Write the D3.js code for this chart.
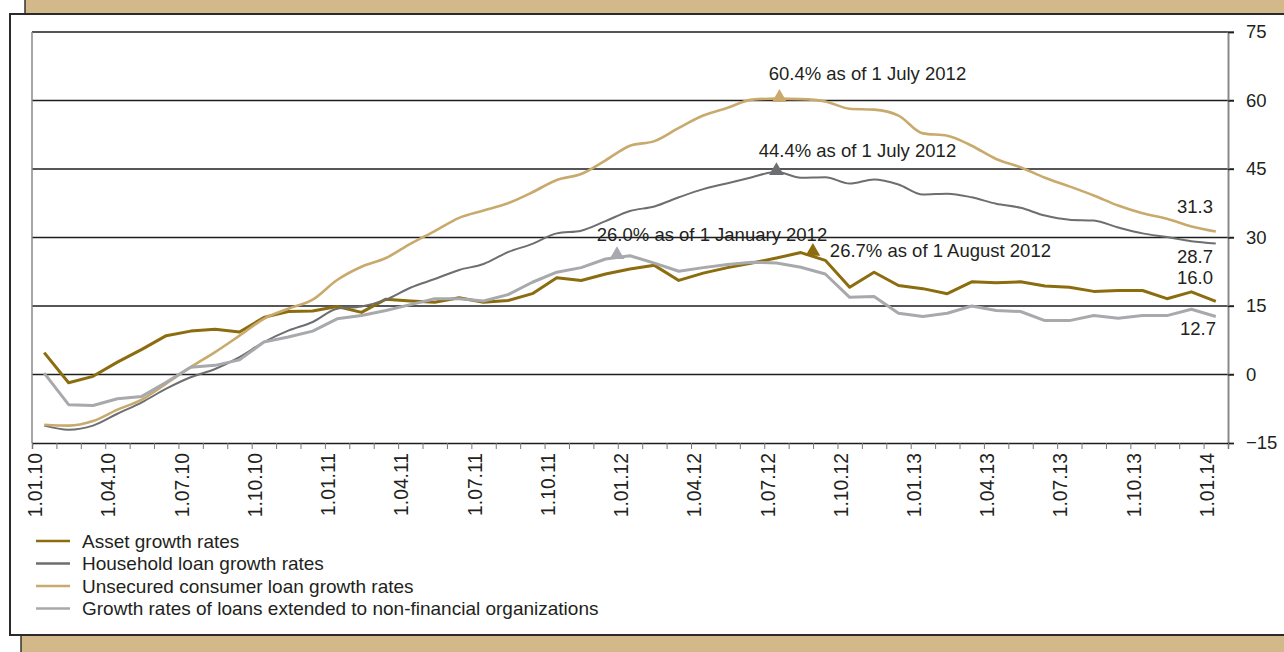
<!doctype html>
<html>
<head>
<meta charset="utf-8"/>
<style>
  html, body { margin: 0; padding: 0; background: #fff; }
  svg { display: block; font-family: "Liberation Sans", Arial, sans-serif; }
  .axis text { font-size: 18.5px; fill: #231f20; }
</style>
<script src="https://d3js.org/d3.v7.min.js"></script>
</head>
<body>
<svg id="chart" width="1284" height="652"></svg>
<script>
// monthly points, 1.01.10 .. 1.01.14
var assetGrowth = [4.8, -1.8, -0.4, 2.7, 5.5, 8.5, 9.5, 9.9, 9.3, 12.5,
  13.8, 13.9, 14.9, 13.6, 16.5, 16.1, 15.8, 16.8, 15.8, 16.2,
  17.7, 21.2, 20.6, 22.0, 23.1, 23.9, 20.6, 22.2, 23.4, 24.4,
  25.5, 26.7, 25.0, 19.1, 22.4, 19.5, 18.8, 17.7, 20.3, 20.1,
  20.3, 19.4, 19.1, 18.2, 18.4, 18.4, 16.6, 18.1, 16.0];
var householdLoans = [-11.2, -12.1, -11.2, -8.6, -6.1, -3.1, -0.6, 1.2, 3.8, 7.1,
  9.6, 11.5, 14.4, 14.9, 16.4, 19.0, 20.9, 22.9, 24.2, 26.8,
  28.6, 30.9, 31.5, 33.6, 35.8, 36.8, 38.8, 40.6, 41.9, 43.2,
  44.4, 43.1, 43.2, 41.8, 42.7, 41.6, 39.4, 39.6, 38.8, 37.4,
  36.5, 34.8, 33.9, 33.7, 32.2, 30.9, 30.1, 29.2, 28.7];
var unsecuredLoans = [-11.0, -11.2, -10.2, -7.7, -5.5, -2.0, 1.6, 4.9, 8.5, 12.2,
  14.4, 16.4, 20.7, 23.6, 25.5, 28.6, 31.4, 34.3, 35.9, 37.5,
  39.9, 42.6, 43.9, 46.9, 50.1, 51.1, 54.0, 56.7, 58.4, 60.2,
  60.4, 60.3, 59.8, 58.2, 58.0, 56.7, 52.8, 52.3, 50.1, 47.2,
  45.4, 43.1, 41.2, 39.2, 37.0, 35.3, 34.1, 32.4, 31.3];
var corporateLoans = [0.3, -6.6, -6.8, -5.3, -4.8, -1.7, 1.6, 2.0, 3.2, 7.1,
  8.2, 9.5, 12.2, 12.9, 14.0, 15.3, 16.6, 16.6, 16.1, 17.5,
  20.2, 22.4, 23.4, 25.3, 26.0, 24.4, 22.6, 23.4, 24.1, 24.6,
  24.4, 23.5, 22.0, 16.9, 17.1, 13.4, 12.7, 13.4, 15.0, 14.0,
  13.8, 11.8, 11.8, 12.9, 12.3, 12.9, 12.9, 14.3, 12.7];

var yTicks = [-15, 0, 15, 30, 45, 60, 75];
var xTickLabels = ["1.01.10", "1.04.10", "1.07.10", "1.10.10", "1.01.11", "1.04.11",
  "1.07.11", "1.10.11", "1.01.12", "1.04.12", "1.07.12", "1.10.12", "1.01.13",
  "1.04.13", "1.07.13", "1.10.13", "1.01.14"];

var series = [
  {name: "Asset growth rates", values: assetGrowth, color: "#8b6c0e", width: 3, smooth: false},
  {name: "Household loan growth rates", values: householdLoans, color: "#6d6e71", width: 2, smooth: true},
  {name: "Unsecured consumer loan growth rates", values: unsecuredLoans, color: "#c8aa6c", width: 2.6, smooth: true},
  {name: "Growth rates of loans extended to non-financial organizations", values: corporateLoans, color: "#a8a9ac", width: 3, smooth: false}
];

// peak notes: series index, point index, text, text position shift
var notes = [
  {s: 2, i: 30, text: "60.4% as of 1 July 2012", dx: 3, tx: 88, ty: -19},
  {s: 1, i: 30, text: "44.4% as of 1 July 2012", dx: 0, tx: 81, ty: -15},
  {s: 3, i: 24, text: "26.0% as of 1 January 2012", dx: -13, tx: 95, ty: -15},
  {s: 0, i: 31, text: "26.7% as of 1 August 2012", dx: 12, tx: 17, ty: 4, anchor: "start"}
];
var endLabels = [
  {s: 2, text: "31.3", x: 1213, y: 213},
  {s: 1, text: "28.7", x: 1213, y: 263},
  {s: 0, text: "16.0", x: 1213, y: 284},
  {s: 3, text: "12.7", x: 1216, y: 335}
];

var svg = d3.select("#chart");
var tan = "#d3b98a", ink = "#231f20";

// frame
svg.append("rect").attr("x", 25).attr("y", -2).attr("width", 1270).attr("height", 16)
  .attr("fill", tan).attr("stroke", "#333").attr("stroke-width", 1.5);
svg.append("rect").attr("x", 21).attr("y", 634).attr("width", 1270).attr("height", 30)
  .attr("fill", tan).attr("stroke", "#333").attr("stroke-width", 1.5);
svg.append("rect").attr("x", 10).attr("y", 14).attr("width", 1290).attr("height", 621)
  .attr("fill", "#fff").attr("stroke", "#2a2a2a").attr("stroke-width", 2);

var plotLeft = 32, plotRight = 1228, plotTop = 32, plotBottom = 443;
var nMonths = 49;
var x = d3.scaleLinear().domain([0, nMonths]).range([plotLeft, plotRight]);
var y = d3.scaleLinear().domain([-15, 75]).range([plotBottom, plotTop]);

// horizontal grid
svg.append("g").selectAll("line").data(yTicks.filter(function(d) { return d > -15; }))
  .join("line")
  .attr("x1", plotLeft).attr("x2", plotRight + 6)
  .attr("y1", function(d) { return y(d); }).attr("y2", function(d) { return y(d); })
  .attr("stroke", "#1e1e1e").attr("stroke-width", 1.3);

// left border of plot
svg.append("line").attr("x1", plotLeft).attr("x2", plotLeft).attr("y1", plotTop).attr("y2", plotBottom)
  .attr("stroke", "#8a8a8a").attr("stroke-width", 1.5);

// right axis
var yAxis = svg.append("g").attr("class", "axis")
  .attr("transform", "translate(" + plotRight + ",0)")
  .call(d3.axisRight(y).tickValues(yTicks).tickSize(6).tickPadding(12)
    .tickFormat(function(d) { return d < 0 ? "\u2212" + Math.abs(d) : d; }));
yAxis.select(".domain").attr("stroke", "#8a8a8a").attr("stroke-width", 2);
yAxis.selectAll(".tick line").attr("stroke", "#1e1e1e").attr("stroke-width", 1.3);

// bottom axis: monthly ticks, labels every quarter
var xAxis = svg.append("g").attr("class", "axis")
  .attr("transform", "translate(0," + plotBottom + ")")
  .call(d3.axisBottom(x).tickValues(d3.range(0, nMonths + 1)).tickSize(6)
    .tickFormat(function(d) { return d % 3 === 0 && xTickLabels[d / 3] ? xTickLabels[d / 3] : ""; }));
xAxis.select(".domain").attr("stroke", "#1e1e1e").attr("stroke-width", 1.3);
xAxis.selectAll(".tick line").attr("stroke", "#777").attr("stroke-width", 1);
xAxis.selectAll(".tick text")
  .attr("transform", "rotate(-90)")
  .attr("text-anchor", "end")
  .style("font-size", "19.3px")
  .attr("x", -10).attr("y", 3).attr("dy", "0.35em");

// lines
var px = function(d, i) { return x(i + 0.5); };
series.forEach(function(s) {
  var line = d3.line().x(px).y(function(d) { return y(d); })
    .curve(s.smooth ? d3.curveMonotoneX : d3.curveLinear);
  svg.append("path").datum(s.values)
    .attr("fill", "none").attr("stroke", s.color).attr("stroke-width", s.width)
    .attr("stroke-linejoin", "round")
    .attr("d", line);
});

// peak markers
var tri = d3.symbol().type(d3.symbolTriangle).size(95);
notes.forEach(function(n) {
  var s = series[n.s];
  var cx = x(n.i + 0.5) + n.dx, cy = y(s.values[n.i]);
  svg.append("path").attr("d", tri)
    .attr("transform", "translate(" + cx + "," + (cy - 1) + ")")
    .attr("fill", s.color);
  svg.append("text")
    .attr("x", cx + n.tx).attr("y", cy + n.ty)
    .attr("text-anchor", n.anchor || "middle")
    .attr("font-size", 18.5).attr("fill", ink)
    .text(n.text);
});

// end values
svg.append("g").selectAll("text").data(endLabels).join("text")
  .attr("x", function(d) { return d.x; }).attr("y", function(d) { return d.y; })
  .attr("text-anchor", "end").attr("font-size", 18.5).attr("fill", ink)
  .text(function(d) { return d.text; });

// legend
var legend = svg.append("g").selectAll("g").data(series).join("g")
  .attr("transform", function(d, i) { return "translate(36," + (541 + i * 22.5) + ")"; });
legend.append("line").attr("x1", 0).attr("x2", 34)
  .attr("stroke", function(d) { return d.color; })
  .attr("stroke-width", 2.4);
legend.append("text").attr("x", 46).attr("dy", "0.35em")
  .attr("font-size", 19).attr("fill", ink)
  .text(function(d) { return d.name; });
</script>
</body>
</html>
